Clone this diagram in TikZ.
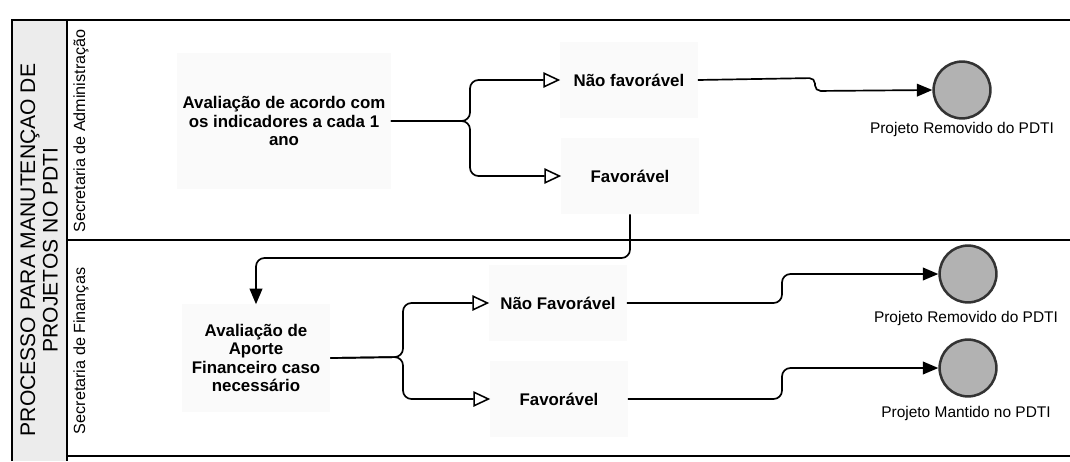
\documentclass[tikz,border=0pt]{standalone}
\usepackage{fontspec}
\setmainfont{Liberation Sans}
\usetikzlibrary{arrows.meta}

\tikzset{
	tarefa/.style={fill=black!2, font=\bfseries\fontsize{12}{13}\selectfont, align=center, inner sep=0pt},
	rotulo/.style={fill=black!2, font=\bfseries\fontsize{12}{13}\selectfont, minimum width=3.425cm, minimum height=1.9cm, inner sep=0pt},
	fim/.style={circle, draw=black!80, line width=1.8pt, fill=gray!60, minimum size=1.42cm, inner sep=0pt},
	legenda/.style={font=\fontsize{11}{12}\selectfont},
	raia/.style={rotate=90, font=\fontsize{11.5}{13}\selectfont},
	fluxo/.style={line width=1.2pt, rounded corners=6pt},
	aberta/.style={-{Triangle[open, length=12pt, width=11pt, line width=1.1pt]}},
	cheia/.style={-{Triangle[length=11pt, width=9pt]}}
}

\begin{document}
\begin{tikzpicture}[x=0.025cm, y=-0.025cm]
		\useasboundingbox (0,0) rectangle (1070,461);
		%pool and lanes
		\draw[line width=1.2pt, fill=gray!15] (12,461) -- (12,20) -- (67,20) -- (67,461);
		\draw[line width=1.2pt] (67,20) -- (1070,20);
		\draw[line width=1.2pt] (67,240) -- (1070,240);
		\draw[line width=1.2pt] (67,456) -- (1070,456);
		\node[rotate=90, align=center, font=\fontsize{15}{16}\selectfont] (pool) at (39,250){PROCESSO PARA MANUTENÇAO DE\\PROJETOS NO PDTI};
		\node[raia] (adm) at (81,131){Secretaria de Administração};
		\node[raia] (fin) at (81,351){Secretaria de Finanças};
		
		%secretaria de administracao
		\node[tarefa, minimum width=5.325cm, minimum height=3.375cm] (t1) at (284,121){Avaliação de acordo com\\os indicadores a cada 1\\ano};
		\node[rotulo] (nf1) at (629,80){Não favorável};
		\node[rotulo] (f1) at (630,176){Favorável};
		\node[fim] (fim1) at (962,90){};
		\node[legenda] (lfim1) at (962,129){Projeto Removido do PDTI};
		\draw[fluxo, aberta] (t1.east) -- (470,121) |- (nf1.west);
		\draw[fluxo, aberta] (t1.east) -- (470,121) |- (f1.west);
		\draw[fluxo, rounded corners=4pt, cheia] (nf1.east) -- (815,78) -- (815,91) -- (fim1.west);
		
		%secretaria de financas
		\node[tarefa, minimum width=3.7cm, minimum height=2.675cm] (t2) at (256,358){Avaliação de\\Aporte\\Financeiro caso\\necessário};
		\node[rotulo] (nf2) at (558,303){Não Favorável};
		\node[rotulo] (f2) at (559,399){Favorável};
		\node[fim] (fim2) at (968,274){};
		\node[legenda] (lfim2) at (966,318){Projeto Removido do PDTI};
		\node[fim] (fim3) at (968,368){};
		\node[legenda] (lfim3) at (966,413){Projeto Mantido no PDTI};
		\draw[fluxo, cheia] (f1.south) -- (630,258) -| (t2.north);
		\draw[fluxo, aberta] (t2.east) -- (403,357) |- (nf2.west);
		\draw[fluxo, aberta] (t2.east) -- (403,357) |- (f2.west);
		\draw[fluxo, cheia] (nf2.east) -- (782,303) -- (782,274) -- (fim2.west);
		\draw[fluxo, cheia] (f2.east) -- (782,399) -- (782,368) -- (fim3.west);
\end{tikzpicture}
\end{document}
